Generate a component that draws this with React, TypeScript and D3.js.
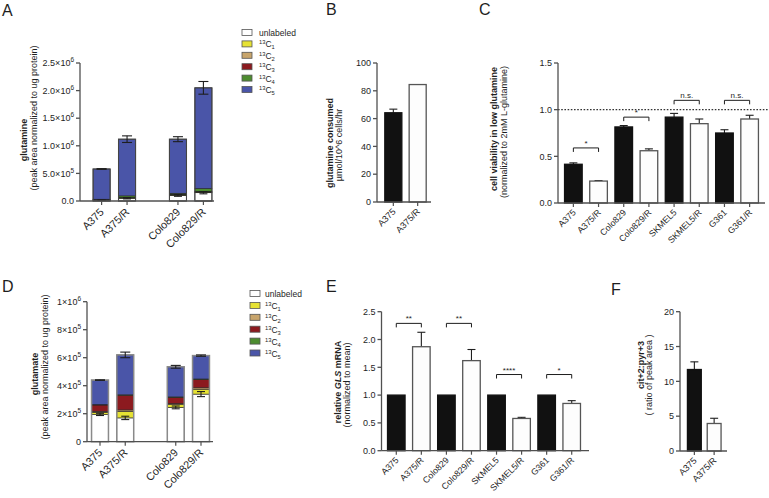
import React from "react";
import * as d3 from "d3";

const FONT = "'Liberation Sans', Arial, Helvetica, sans-serif";
const AXIS = "#505050";
const INK = "#1e1e1e";

// ---------------- data ----------------
// Panel A: glutamine isotopologues (peak area normalized to ug protein)
const glnGroups = ["A375", "A375/R", "Colo829", "Colo829/R"];
const glnUnlabeled = [15000, 50000, 100000, 150000];
const glnC1 = [2000, 4000, 5000, 8000];
const glnC2 = [2000, 4000, 5000, 8000];
const glnC3 = [3000, 5000, 12000, 10000];
const glnC4 = [10000, 30000, 18000, 50000];
const glnC5 = [548000, 1027000, 980000, 1824000];
const glnTotalErr = [6000, 60000, 45000, 115000];
const glnUnlabeledErr = [3000, 12000, 15000, 20000];
const glnTicks = [0, 5e5, 1e6, 1.5e6, 2e6, 2.5e6];

// Panel D: glutamate isotopologues
const gluGroups = ["A375", "A375/R", "Colo829", "Colo829/R"];
const gluUnlabeled = [195000, 170000, 245000, 340000];
const gluC1 = [15000, 45000, 20000, 35000];
const gluC2 = [7000, 12000, 7000, 10000];
const gluC3 = [45000, 105000, 45000, 60000];
const gluC4 = [3000, 3000, 3000, 3000];
const gluC5 = [175000, 285000, 215000, 167000];
const gluTotalErr = [2000, 20000, 10000, 5000];
const gluUnlabeledErr = [8000, 12000, 10000, 18000];
const gluTicks = [0, 2e5, 4e5, 6e5, 8e5, 1e6];

const isoKeys = ["unlabeled", "C1", "C2", "C3", "C4", "C5"];
const isoMass = ["", "1", "2", "3", "4", "5"];

// Panel B: glutamine consumed
const consumedGroups = ["A375", "A375/R"];
const consumedValues = [64.2, 84.5];
const consumedErr = [2.6, 0];
const consumedTicks = [0, 20, 40, 60, 80, 100];

// Panel C: viability in low glutamine
const cellLines = ["A375", "A375/R", "Colo829", "Colo829/R", "SKMEL5", "SKMEL5/R", "G361", "G361/R"];
const viabilityValues = [0.415, 0.235, 0.815, 0.56, 0.92, 0.85, 0.75, 0.9];
const viabilityErr = [0.015, 0.005, 0.015, 0.02, 0.04, 0.05, 0.035, 0.04];
const viabilityTicks = [0, 0.5, 1, 1.5];
const viabilityBracketY = [0.59, 0.92, 1.1, 1.1];
const viabilityMarks = ["*", "*", "n.s.", "n.s."];

// Panel E: relative GLS mRNA
const glsValues = [1, 1.87, 1, 1.62, 1, 0.58, 1, 0.85];
const glsErr = [0, 0.26, 0, 0.2, 0, 0.02, 0, 0.05];
const glsTicks = [0, 0.5, 1, 1.5, 2, 2.5];
const glsBracketY = [2.29, 2.29, 1.37, 1.37];
const glsMarks = ["**", "**", "****", "*"];

// Panel F: cit+2 : pyr+3
const citGroups = ["A375", "A375/R"];
const citValues = [11.7, 3.95];
const citErr = [1.1, 0.75];
const citTicks = [0, 5, 10, 15, 20];

// ---------------- styles ----------------
const isoColors = ["#ffffff", "#e6e234", "#c8a56c", "#8c1a1f", "#4d8c2f", "#4a55a8"];

// ---------------- helpers ----------------
type Lbl = { main: string; sup?: string };

function sciLabel(v: number, digits: number, zero: string): Lbl {
  if (v === 0) return { main: zero };
  const e = Math.floor(Math.log10(v) + 1e-9);
  const m = v / Math.pow(10, e);
  return { main: m.toFixed(digits) + "\u00d710", sup: String(e) };
}

function YAxis({ x, y, ticks, fmt, fs }: { x: number; y: any; ticks: number[]; fmt: (v: number) => Lbl; fs: number }) {
  const [d0, d1] = y.domain();
  return (
    <g>
      <line x1={x} x2={x} y1={y(d0)} y2={y(d1)} stroke={AXIS} strokeWidth={1.3} />
      {ticks.map((t, i) => {
        const l = fmt(t);
        return (
          <g key={i}>
            <line x1={x - 4} x2={x} y1={y(t)} y2={y(t)} stroke={AXIS} strokeWidth={1.3} />
            <text x={x - 6} y={y(t) + fs * 0.36} textAnchor="end" fontSize={fs} fill={INK}>
              {l.main}
              {l.sup ? (
                <tspan dy={-4} fontSize={fs * 0.72}>
                  {l.sup}
                </tspan>
              ) : null}
            </text>
          </g>
        );
      })}
    </g>
  );
}

function XAxis({ x0, x1, y0, xb, cats, fs }: { x0: number; x1: number; y0: number; xb: any; cats: string[]; fs: number }) {
  return (
    <g>
      <line x1={x0} x2={x1} y1={y0} y2={y0} stroke={AXIS} strokeWidth={1.3} />
      {cats.map((c) => {
        const cx = xb(c) + xb.bandwidth() / 2;
        return (
          <g key={c}>
            <line x1={cx} x2={cx} y1={y0} y2={y0 + 4} stroke={AXIS} strokeWidth={1.2} />
            <text
              transform={`translate(${cx + 3},${y0 + 3 + fs * 0.8}) rotate(-45)`}
              textAnchor="end"
              fontSize={fs}
              fill={INK}
            >
              {c}
            </text>
          </g>
        );
      })}
    </g>
  );
}

function YTitle({
  x1, x2, cy1, cy2, bold, normal,
}: { x1: number; x2: number; cy1: number; cy2: number; bold: React.ReactNode; normal: string }) {
  return (
    <g fill={INK}>
      <text transform={`translate(${x1},${cy1}) rotate(-90)`} textAnchor="middle" fontSize={9} fontWeight="bold">
        {bold}
      </text>
      <text transform={`translate(${x2},${cy2}) rotate(-90)`} textAnchor="middle" fontSize={9}>
        {normal}
      </text>
    </g>
  );
}

function PanelLabel({ x, y, t }: { x: number; y: number; t: string }) {
  return (
    <text x={x} y={y} fontSize={16} fill={INK}>
      {t}
    </text>
  );
}

function ErrBar({ cx, y1, y2, w }: { cx: number; y1: number; y2: number; w: number }) {
  return (
    <g stroke={INK} strokeWidth={1.1}>
      <line x1={cx} x2={cx} y1={y1} y2={y2} />
      <line x1={cx - w / 2} x2={cx + w / 2} y1={y2} y2={y2} />
    </g>
  );
}

function IsoLegend({ x, y, step, fs, tx }: { x: number; y: number; step: number; fs: number; tx: number }) {
  return (
    <g fontSize={fs} fill={INK}>
      {isoKeys.map((k, i) => (
        <g key={k} transform={`translate(${x},${y + i * step})`}>
          <rect x={0} y={-3} width={10} height={6} fill={isoColors[i]} stroke="#555" strokeWidth={0.8} />
          {i === 0 ? (
            <text x={tx} y={3}>unlabeled</text>
          ) : (
            <text x={tx} y={3.5}>
              <tspan fontSize={fs * 0.68} dy={-3}>13</tspan>
              <tspan dy={3}>C</tspan>
              <tspan fontSize={fs * 0.68} dy={2}>{isoMass[i]}</tspan>
            </text>
          )}
        </g>
      ))}
    </g>
  );
}

type StackProps = {
  groups: string[];
  layers: number[][];
  totalErr: number[];
  unlabeledErr: number[];
  ticks: number[];
  fmt: (v: number) => Lbl;
  axisX: number;
  xEnd: number;
  yTop: number;
  yBottom: number;
  bandStart: number;
  bandEnd: number;
  outline: string;
  outlineW: number;
};

function StackedPanel(p: StackProps) {
  const slots = [p.groups[0], p.groups[1], "__gap", p.groups[2], p.groups[3]];
  const xb = d3.scaleBand<string>().domain(slots).range([p.bandStart, p.bandEnd]).paddingInner(0.33).paddingOuter(0.16);
  const y = d3.scaleLinear().domain([0, p.ticks[p.ticks.length - 1]]).range([p.yBottom, p.yTop]);
  const rows = p.groups.map((g, i) => {
    const r: any = { group: g };
    isoKeys.forEach((k, j) => (r[k] = p.layers[j][i]));
    return r;
  });
  const series = d3.stack<any>().keys(isoKeys)(rows);
  const bw = xb.bandwidth();
  return (
    <g>
      {series.map((s, j) => (
        <g key={s.key}>
          {s.map((d: any) => (
            <rect
              key={d.data.group}
              x={xb(d.data.group)}
              width={bw}
              y={y(d[1])}
              height={Math.max(0, y(d[0]) - y(d[1]))}
              fill={isoColors[j]}
              stroke="#222"
              strokeWidth={0.6}
            />
          ))}
        </g>
      ))}
      {rows.map((r, i) => {
        const total = isoKeys.reduce((a, k) => a + r[k], 0);
        const x0 = xb(r.group)!;
        const cx = x0 + bw / 2;
        return (
          <g key={r.group}>
            <rect x={x0} width={bw} y={y(total)} height={y(0) - y(total)} fill="none" stroke={p.outline} strokeWidth={p.outlineW} />
            <g stroke={INK} strokeWidth={1.1}>
              <line x1={cx} x2={cx} y1={y(total - p.totalErr[i])} y2={y(total + p.totalErr[i])} />
              <line x1={cx - 5} x2={cx + 5} y1={y(total - p.totalErr[i])} y2={y(total - p.totalErr[i])} />
              <line x1={cx - 5} x2={cx + 5} y1={y(total + p.totalErr[i])} y2={y(total + p.totalErr[i])} />
              <line x1={cx} x2={cx} y1={y(r.unlabeled - p.unlabeledErr[i])} y2={y(r.unlabeled + p.unlabeledErr[i])} />
              <line x1={cx - 4} x2={cx + 4} y1={y(r.unlabeled - p.unlabeledErr[i])} y2={y(r.unlabeled - p.unlabeledErr[i])} />
              <line x1={cx - 4} x2={cx + 4} y1={y(r.unlabeled + p.unlabeledErr[i])} y2={y(r.unlabeled + p.unlabeledErr[i])} />
            </g>
          </g>
        );
      })}
      <YAxis x={p.axisX} y={y} ticks={p.ticks} fmt={p.fmt} fs={9} />
      <XAxis x0={p.axisX} x1={p.xEnd} y0={p.yBottom} xb={xb} cats={p.groups} fs={10.8} />
    </g>
  );
}

type BarProps = {
  groups: string[];
  values: number[];
  errs: number[];
  ticks: number[];
  fmt: (v: number) => Lbl;
  axisX: number;
  xEnd: number;
  yTop: number;
  yBottom: number;
  bandStart: number;
  bandEnd: number;
  padding: number;
  catFs: number;
  bracketY?: number[];
  marks?: string[];
  refLine?: number;
  refEnd?: number;
};

function BarPanel(p: BarProps) {
  const xb = d3.scaleBand<string>().domain(p.groups).range([p.bandStart, p.bandEnd]).padding(p.padding);
  const y = d3.scaleLinear().domain([0, p.ticks[p.ticks.length - 1]]).range([p.yBottom, p.yTop]);
  const bw = xb.bandwidth();
  const cxOf = (i: number) => xb(p.groups[i])! + bw / 2;
  return (
    <g>
      {p.refLine !== undefined ? (
        <line
          x1={p.axisX}
          x2={p.refEnd}
          y1={y(p.refLine)}
          y2={y(p.refLine)}
          stroke="#333"
          strokeWidth={1.3}
          strokeDasharray="1.6,1.6"
        />
      ) : null}
      {p.groups.map((g, i) => {
        const x0 = xb(g)!;
        const dark = i % 2 === 0;
        return (
          <g key={g}>
            {p.errs[i] > 0 ? (
              <ErrBar cx={x0 + bw / 2} y1={y(p.values[i])} y2={y(p.values[i] + p.errs[i])} w={8} />
            ) : null}
            <rect
              x={x0}
              width={bw}
              y={y(p.values[i])}
              height={y(0) - y(p.values[i])}
              fill={dark ? "#111" : "#fdfdfd"}
              stroke={dark ? "#111" : "#555"}
              strokeWidth={1.3}
            />
          </g>
        );
      })}
      {p.bracketY
        ? p.bracketY.map((b, k) => {
            const xa = cxOf(2 * k);
            const xc = cxOf(2 * k + 1);
            const yy = y(b);
            return (
              <g key={k}>
                <path d={`M${xa},${yy + 4}V${yy}H${xc}V${yy + 4}`} fill="none" stroke={INK} strokeWidth={1} />
                <text x={(xa + xc) / 2} y={yy - 2} textAnchor="middle" fontSize={8} fill={INK}>
                  {p.marks![k]}
                </text>
              </g>
            );
          })
        : null}
      <YAxis x={p.axisX} y={y} ticks={p.ticks} fmt={p.fmt} fs={9} />
      <XAxis x0={p.axisX} x1={p.xEnd} y0={p.yBottom} xb={xb} cats={p.groups} fs={p.catFs} />
    </g>
  );
}

const fmtFixed = (d: number) => (v: number): Lbl => ({ main: v.toFixed(d) });

export default function App() {
  React.useEffect(() => {
    document.body.style.margin = "0";
  }, []);
  return (
    <svg
      width={769}
      height={498}
      style={{ position: "absolute", left: 0, top: 0, background: "#fff", fontFamily: FONT }}
      fontFamily={FONT}
    >
      <rect width={769} height={498} fill="#fff" />

      {/* Panel A */}
      <PanelLabel x={2} y={16} t="A" />
      <StackedPanel
        groups={glnGroups}
        layers={[glnUnlabeled, glnC1, glnC2, glnC3, glnC4, glnC5]}
        totalErr={glnTotalErr}
        unlabeledErr={glnUnlabeledErr}
        ticks={glnTicks}
        fmt={(v) => sciLabel(v, 1, "0.0")}
        axisX={80}
        xEnd={214}
        yTop={63}
        yBottom={201}
        bandStart={89}
        bandEnd={216}
        outline="#444"
        outlineW={1.1}
      />
      <YTitle x1={27} x2={37} cy1={140} cy2={118} bold="glutamine" normal="(peak area normalized to ug protein)" />
      <IsoLegend x={242} y={32.5} step={11.4} fs={8.5} tx={17} />

      {/* Panel B */}
      <PanelLabel x={326} y={15} t="B" />
      <BarPanel
        groups={consumedGroups}
        values={consumedValues}
        errs={consumedErr}
        ticks={consumedTicks}
        fmt={fmtFixed(0)}
        axisX={377}
        xEnd={431}
        yTop={63}
        yBottom={202}
        bandStart={377.5}
        bandEnd={433.5}
        padding={0.3}
        catFs={9}
      />
      <YTitle x1={333} x2={342} cy1={143} cy2={145} bold="glutamine consumed" normal={"\u00b5mol/10^6 cells/hr"} />

      {/* Panel C */}
      <PanelLabel x={479} y={15} t="C" />
      <BarPanel
        groups={cellLines}
        values={viabilityValues}
        errs={viabilityErr}
        ticks={viabilityTicks}
        fmt={fmtFixed(1)}
        axisX={558}
        xEnd={765}
        yTop={63}
        yBottom={203}
        bandStart={557}
        bandEnd={766}
        padding={0.3}
        catFs={8.8}
        bracketY={viabilityBracketY}
        marks={viabilityMarks}
        refLine={1}
        refEnd={769}
      />
      <YTitle
        x1={497}
        x2={507}
        cy1={129}
        cy2={132}
        bold="cell viability in low glutamine"
        normal="(normalized to 2mM L-glutamine)"
      />

      {/* Panel D */}
      <PanelLabel x={2} y={292} t="D" />
      <StackedPanel
        groups={gluGroups}
        layers={[gluUnlabeled, gluC1, gluC2, gluC3, gluC4, gluC5]}
        totalErr={gluTotalErr}
        unlabeledErr={gluUnlabeledErr}
        ticks={gluTicks}
        fmt={(v) => sciLabel(v, 0, "0")}
        axisX={87}
        xEnd={213}
        yTop={301.7}
        yBottom={441.7}
        bandStart={87.5}
        bandEnd={213.5}
        outline="#8a8a8a"
        outlineW={1.5}
      />
      <YTitle x1={38} x2={48} cy1={374} cy2={367} bold="glutamate" normal="(peak area normalized to ug protein)" />
      <IsoLegend x={250} y={293.5} step={11.9} fs={8.5} tx={15} />

      {/* Panel E */}
      <PanelLabel x={326} y={292} t="E" />
      <BarPanel
        groups={cellLines}
        values={glsValues}
        errs={glsErr}
        ticks={glsTicks}
        fmt={fmtFixed(1)}
        axisX={381.5}
        xEnd={589}
        yTop={311.7}
        yBottom={450.7}
        bandStart={380}
        bandEnd={588}
        padding={0.3}
        catFs={8.8}
        bracketY={glsBracketY}
        marks={glsMarks}
      />
      <YTitle
        x1={341}
        x2={350}
        cy1={382}
        cy2={385}
        bold={
          <>
            <tspan>relative </tspan>
            <tspan fontStyle="italic">GLS</tspan>
            <tspan> mRNA</tspan>
          </>
        }
        normal="(normalized to  mean)"
      />

      {/* Panel F */}
      <PanelLabel x={611} y={295} t="F" />
      <BarPanel
        groups={citGroups}
        values={citValues}
        errs={citErr}
        ticks={citTicks}
        fmt={fmtFixed(0)}
        axisX={680}
        xEnd={727}
        yTop={311.7}
        yBottom={451}
        bandStart={681.5}
        bandEnd={727}
        padding={0.3}
        catFs={9}
      />
      <YTitle x1={644} x2={652} cy1={365} cy2={375} bold="cit+2:pyr+3" normal="( ratio of peak area )" />
    </svg>
  );
}
